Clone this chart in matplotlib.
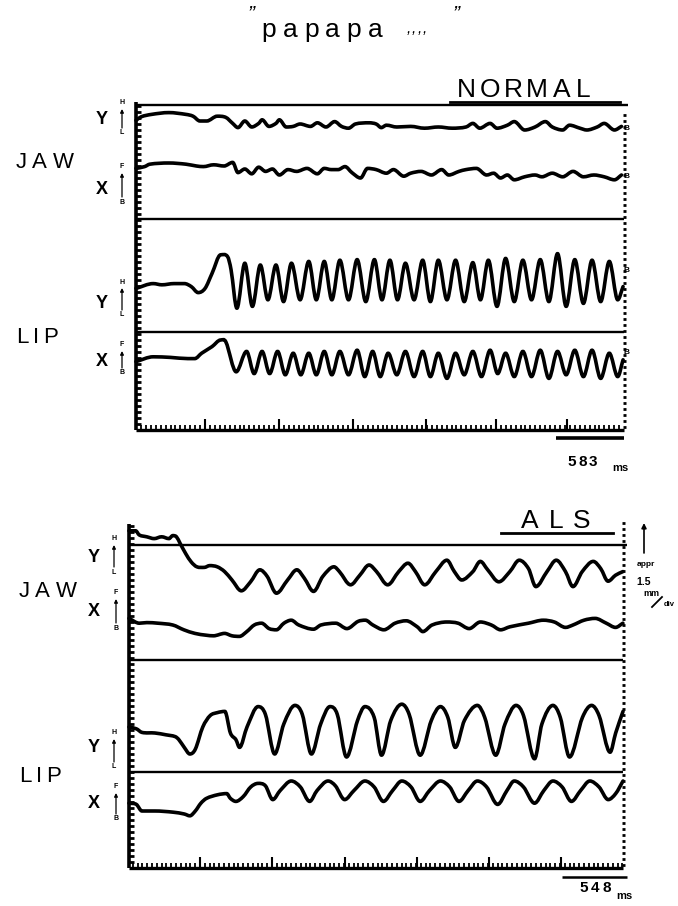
import numpy as np
import matplotlib
matplotlib.use("Agg")
import matplotlib.pyplot as plt
from matplotlib.path import Path
from matplotlib.patches import PathPatch
from matplotlib.textpath import TextPath
from matplotlib.font_manager import FontProperties

FONT = "Liberation Sans"
plt.rcParams["font.family"] = [FONT, "DejaVu Sans"]

# ---------------- data (time in ms, displacement in divisions of ~1.5 mm) -------------
normal_jaw_y_t = [0, 44, 133, 281, 429, 489, 548, 607, 696, 770, 829, 874, 933, 992, 1052, 1081,
                  1140, 1200, 1229, 1288, 1348, 1407, 1496, 1555, 1629, 1703, 1762, 1822, 1881,
                  1999, 2059, 2103, 2147, 2236, 2355, 2473, 2592, 2710, 2829, 2888, 2947, 3036,
                  3095, 3184, 3243, 3332, 3421, 3510, 3569, 3658, 3717, 3806, 3865, 3954, 4014,
                  4102, 4162]
normal_jaw_y_v = [51.6, 52.2, 52.6, 52.9, 52.6, 52.3, 51.5, 51.5, 52.3, 52.1, 51.1, 50.4, 51.5,
                  50.5, 51.1, 51.7, 50.6, 51.1, 51.7, 50.5, 50.6, 51.0, 50.6, 51.2, 50.5, 51.4,
                  50.6, 50.3, 51.0, 51.2, 51.0, 50.4, 50.8, 50.5, 50.6, 50.3, 50.5, 50.3, 50.5,
                  51.1, 50.3, 51.1, 50.3, 50.8, 51.4, 50.0, 50.5, 51.4, 50.5, 50.0, 50.8, 50.3,
                  50.0, 50.5, 51.1, 50.0, 50.6]

normal_jaw_x_t = [0, 74, 118, 281, 429, 518, 578, 666, 755, 829, 874, 933, 992, 1052, 1111, 1170,
                  1229, 1303, 1377, 1466, 1555, 1614, 1674, 1733, 1792, 1851, 1925, 1985, 2059,
                  2147, 2207, 2296, 2355, 2444, 2533, 2621, 2681, 2769, 2829, 2918, 3006, 3066,
                  3125, 3184, 3243, 3332, 3421, 3480, 3569, 3658, 3747, 3836, 3925, 4014, 4102,
                  4162]
normal_jaw_x_v = [43.6, 43.9, 44.3, 44.5, 44.3, 44.0, 43.9, 44.2, 44.0, 44.6, 42.9, 43.5, 42.7,
                  43.8, 43.1, 43.5, 42.5, 43.4, 43.1, 43.6, 42.7, 43.6, 43.4, 43.4, 43.9, 42.9,
                  42.0, 43.6, 43.4, 42.8, 43.4, 42.3, 42.8, 43.1, 42.5, 43.4, 42.5, 43.1, 43.4,
                  43.6, 42.5, 42.8, 42.0, 42.5, 41.7, 42.2, 42.5, 42.2, 42.8, 42.2, 43.1, 42.2,
                  42.5, 42.2, 41.7, 42.5]

normal_lip_y_t = [0, 148, 222, 326, 415, 474, 533, 592, 652, 726, 785, 815, 865, 933, 998, 1066,
                  1131, 1200, 1265, 1333, 1407, 1481, 1546, 1614, 1679, 1748, 1822, 1896, 1970,
                  2044, 2109, 2177, 2242, 2310, 2384, 2458, 2524, 2592, 2666, 2740, 2814, 2888,
                  2953, 3021, 3095, 3169, 3243, 3317, 3391, 3466, 3540, 3614, 3688, 3762, 3836,
                  3910, 3984, 4058, 4130, 4176]
normal_lip_y_v = [23.6, 24.4, 24.2, 24.4, 24.4, 23.9, 22.9, 23.6, 26.1, 29.2, 28.9, 26.7, 20.3,
                  27.8, 20.6, 27.5, 21.7, 27.5, 21.4, 27.8, 21.7, 28.1, 21.7, 28.1, 21.7, 28.3,
                  21.7, 28.4, 21.4, 28.4, 21.7, 28.3, 21.7, 27.8, 21.7, 28.3, 21.4, 28.3, 21.7,
                  28.3, 21.4, 27.9, 21.7, 28.3, 20.6, 28.6, 21.4, 28.3, 21.7, 28.4, 21.4, 29.4,
                  20.6, 28.4, 21.1, 28.3, 21.4, 28.1, 21.7, 23.9]

normal_lip_x_t = [0, 148, 296, 444, 504, 563, 652, 726, 770, 859, 948, 1013, 1081, 1146, 1214,
                  1280, 1348, 1413, 1481, 1546, 1614, 1679, 1748, 1822, 1896, 1961, 2029, 2094,
                  2162, 2236, 2310, 2384, 2458, 2524, 2592, 2666, 2740, 2814, 2888, 2962, 3036,
                  3101, 3169, 3243, 3317, 3391, 3466, 3540, 3614, 3688, 3762, 3836, 3910, 3984,
                  4058, 4130, 4176]
normal_lip_x_v = [11.4, 12.2, 12.1, 11.9, 11.9, 12.8, 13.9, 15.0, 14.7, 9.7, 13.1, 9.4, 13.1,
                  9.4, 13.1, 9.2, 12.8, 9.2, 12.8, 9.2, 13.1, 9.2, 13.1, 9.2, 13.3, 8.9, 13.1,
                  8.9, 12.8, 9.2, 13.1, 8.9, 13.1, 8.9, 12.8, 8.6, 12.8, 9.2, 13.1, 8.9, 13.3,
                  9.4, 12.8, 8.9, 13.1, 8.9, 13.3, 8.6, 13.1, 9.2, 13.3, 8.9, 13.3, 8.6, 12.8,
                  8.9, 11.7]

als_jaw_y_t = [0, 56, 87, 150, 212, 275, 337, 369, 400, 431, 478, 525, 572, 634, 681, 744, 806,
               868, 947, 1025, 1103, 1165, 1243, 1337, 1415, 1478, 1556, 1634, 1728, 1774, 1868,
               1946, 2024, 2087, 2181, 2274, 2352, 2415, 2493, 2587, 2680, 2743, 2805, 2899,
               2962, 3024, 3118, 3211, 3290, 3368, 3430, 3524, 3602, 3680, 3743, 3821, 3914,
               3977, 4039, 4102, 4164]
als_jaw_y_v = [56.2, 56.2, 55.5, 55.2, 54.9, 55.2, 54.9, 55.4, 55.2, 54.1, 52.4, 51.0, 50.2,
               50.1, 50.4, 50.2, 49.4, 48.0, 46.2, 47.7, 49.7, 48.6, 45.8, 48.0, 49.7, 48.3,
               46.1, 48.6, 50.2, 49.4, 47.2, 48.8, 50.5, 49.4, 47.2, 49.4, 50.8, 49.4, 47.2,
               49.4, 51.3, 49.4, 48.0, 49.4, 51.1, 49.7, 47.7, 49.4, 51.3, 49.9, 46.9, 49.4,
               51.3, 49.4, 46.9, 49.4, 51.1, 49.9, 47.8, 48.8, 49.4]

als_jaw_x_t = [0, 87, 150, 244, 369, 462, 556, 650, 712, 806, 868, 931, 993, 1056, 1118, 1181,
               1243, 1306, 1368, 1431, 1556, 1618, 1743, 1837, 1931, 1993, 2056, 2149, 2243,
               2337, 2430, 2477, 2555, 2680, 2774, 2868, 2962, 3055, 3133, 3211, 3368, 3493,
               3586, 3680, 3743, 3836, 3930, 4024, 4102, 4164]
als_jaw_x_v = [41.6, 40.8, 40.9, 40.8, 40.5, 39.7, 39.1, 38.8, 38.7, 39.1, 38.7, 38.6, 39.4,
               40.5, 40.8, 39.9, 39.7, 40.8, 41.3, 40.5, 39.8, 40.5, 40.8, 39.9, 41.1, 41.3,
               40.5, 39.7, 40.8, 41.2, 40.2, 39.4, 40.5, 41.0, 40.8, 39.9, 41.0, 40.5, 39.7,
               40.2, 40.8, 41.3, 41.0, 40.1, 40.5, 41.3, 41.6, 40.8, 40.1, 40.8]

als_lip_y_t = [0, 62, 109, 218, 311, 389, 420, 466, 513, 559, 622, 684, 746, 808, 855, 901, 932,
               995, 1088, 1150, 1228, 1305, 1399, 1461, 1538, 1616, 1694, 1756, 1834, 1927,
               1989, 2067, 2129, 2207, 2300, 2362, 2455, 2549, 2626, 2688, 2751, 2828, 2937,
               2999, 3092, 3170, 3263, 3326, 3419, 3481, 3574, 3636, 3714, 3823, 3900, 3963,
               4056, 4103, 4165]
als_lip_y_v = [23.5, 23.2, 22.6, 22.5, 22.2, 21.9, 21.4, 20.1, 19.0, 19.8, 23.5, 25.4, 25.9,
               26.1, 22.5, 21.4, 20.1, 23.5, 26.9, 25.6, 19.0, 24.0, 27.1, 25.6, 19.0, 24.0,
               26.9, 25.6, 18.5, 24.6, 26.9, 25.1, 18.8, 24.6, 27.3, 25.6, 18.8, 24.6, 26.9,
               25.1, 20.1, 24.6, 27.1, 25.1, 18.8, 24.0, 27.1, 25.4, 18.2, 24.0, 27.1, 25.1,
               18.5, 25.1, 27.1, 25.4, 19.3, 22.5, 26.1]

als_lip_x_t = [0, 62, 109, 218, 373, 466, 513, 559, 606, 653, 746, 824, 855, 901, 963, 1026,
               1088, 1150, 1212, 1274, 1368, 1445, 1523, 1585, 1678, 1740, 1818, 1896, 1989,
               2067, 2145, 2222, 2300, 2378, 2455, 2533, 2626, 2704, 2782, 2859, 2937, 3015,
               3108, 3186, 3248, 3326, 3419, 3497, 3574, 3652, 3730, 3807, 3885, 3963, 4040,
               4103, 4165]
als_lip_x_v = [10.8, 10.6, 9.5, 9.5, 9.3, 9.0, 8.7, 9.5, 10.8, 11.6, 12.2, 12.4, 11.6, 11.1,
               11.9, 13.5, 14.1, 13.7, 11.4, 12.9, 14.5, 13.5, 11.1, 12.9, 14.5, 13.7, 11.4,
               12.9, 14.5, 13.5, 11.1, 12.9, 14.5, 13.5, 11.1, 12.9, 14.5, 13.5, 11.1, 12.9,
               14.5, 13.5, 10.6, 12.9, 14.5, 13.5, 10.8, 12.9, 14.5, 13.5, 11.1, 12.9, 14.5,
               13.5, 11.4, 12.4, 14.5]

# reference lines (divisions) and time marks (ms)
normal_lines = [54.2, 35.2, 16.3]
als_lines = [53.8, 34.7, 16.0]
normal_major_ticks = [592, 1226, 1861, 2487, 3087, 3695]
als_major_ticks = [599, 1206, 1821, 2428, 3035, 3642]
normal_scale_ms = 583
als_scale_ms = 548

# ---------------- figure ----------------
W, H = 678, 906
fig = plt.figure(figsize=(W / 100, H / 100), dpi=100)
fig.patch.set_facecolor("white")

ov = fig.add_axes([0, 0, 1, 1])
ov.set_xlim(0, W)
ov.set_ylim(H, 0)
ov.axis("off")
ov.set_zorder(5)
ov.patch.set_alpha(0)

PX_PER_DIV = 6.0


def smooth_path(t, v):
    t = np.asarray(t, float)
    v = np.asarray(v, float)
    n = len(t)
    m = np.zeros(n)
    for i in range(1, n - 1):
        if (v[i] - v[i - 1]) * (v[i + 1] - v[i]) > 0:
            m[i] = (v[i + 1] - v[i - 1]) / (t[i + 1] - t[i - 1])
    m[0] = (v[1] - v[0]) / (t[1] - t[0])
    m[-1] = (v[-1] - v[-2]) / (t[-1] - t[-2])
    verts = [(t[0], v[0])]
    codes = [Path.MOVETO]
    for i in range(n - 1):
        h = t[i + 1] - t[i]
        verts += [(t[i] + h / 3, v[i] + m[i] * h / 3),
                  (t[i + 1] - h / 3, v[i + 1] - m[i + 1] * h / 3),
                  (t[i + 1], v[i + 1])]
        codes += [Path.CURVE4] * 3
    return Path(verts, codes)


def make_panel(left, right, top, bottom, ms_per_px):
    ax = fig.add_axes([left / W, 1 - bottom / H, (right - left) / W, (bottom - top) / H])
    xmax = (right - left) * ms_per_px
    ymax = (bottom - top) / PX_PER_DIV
    ax.set_xlim(0, xmax)
    ax.set_ylim(0, ymax)
    ax.axis("off")
    return ax, xmax, ymax


def draw_frame(ax, xmax, ymax, mpp, majors, lines, dot_top):
    k = dict(color="black", clip_on=False, solid_capstyle="butt")
    # left axis with ticks every division
    ax.plot([0, 0], [0, ymax], lw=2.6, **k)
    ax.hlines(np.arange(1, int(ymax) + 1), 0, 5 * mpp, lw=2.0, color="black", clip_on=False)
    # time base
    ax.plot([0, xmax], [0, 0], lw=2.4, **k)
    step = (majors[1] - majors[0]) / 15.0
    minors = np.arange(majors[0] % step, xmax, step)
    ax.vlines(minors, 0, 0.9, lw=1.3, color="black", clip_on=False)
    ax.vlines(majors, 0, 1.9, lw=1.5, color="black", clip_on=False)
    # dotted right edge
    ax.hlines(np.arange(0.5, dot_top, 1.0), xmax - 12, xmax + 18, lw=2.0,
              color="black", clip_on=False)
    # reference lines
    for i, yl in enumerate(lines):
        ax.plot([0, xmax + (4 * mpp if i == 0 else 0)], [yl, yl], lw=1.7, **k)


def draw_trace(ax, t, v):
    ax.add_patch(PathPatch(smooth_path(t, v), fill=False, lw=2.6, ec="black",
                           capstyle="round", joinstyle="round", clip_on=False))


# NORMAL panel
mpp1 = 583 / 68.0
ax1, xm1, ym1 = make_panel(136, 624, 102, 430, mpp1)
draw_frame(ax1, xm1, ym1, mpp1, normal_major_ticks, normal_lines, ym1 - 1.2)
for t, v in [(normal_jaw_y_t, normal_jaw_y_v), (normal_jaw_x_t, normal_jaw_x_v),
             (normal_lip_y_t, normal_lip_y_v), (normal_lip_x_t, normal_lip_x_v)]:
    draw_trace(ax1, t, v)
ax1.plot([xm1 - normal_scale_ms, xm1], [-1.35, -1.35], lw=2.6, color="black",
         clip_on=False, solid_capstyle="butt")

# ALS panel
mpp2 = 548 / 65.0
ax2, xm2, ym2 = make_panel(129, 623, 524, 868, mpp2)
draw_frame(ax2, xm2, ym2, mpp2, als_major_ticks, als_lines, ym2 + 0.6)
for t, v in [(als_jaw_y_t, als_jaw_y_v), (als_jaw_x_t, als_jaw_x_v),
             (als_lip_y_t, als_lip_y_v), (als_lip_x_t, als_lip_x_v)]:
    draw_trace(ax2, t, v)
ax2.plot([xm2 + 4 * mpp2 - als_scale_ms, xm2 + 4 * mpp2], [-1.5, -1.5], lw=1.8,
         color="black", clip_on=False, solid_capstyle="butt")


# ---------------- text ----------------
def spaced(x0, y, s, size, gap, weight="normal", va="baseline", style="normal"):
    fp = FontProperties(family=FONT, weight=weight, style=style)
    x = x0
    for ch in s:
        if ch == " ":
            x += gap * 2
            continue
        w = TextPath((0, 0), ch, size=size, prop=fp).get_extents().width * 100 / 72.0
        ov.text(x + w / 2, y, ch, fontsize=size, fontweight=weight, fontstyle=style,
                ha="center", va=va, family=FONT)
        x += w + gap


# title
ov.text(251, 20, "\u201d", fontsize=15, ha="center", va="baseline", style="italic")
spaced(263, 37, "papapa", 19, 8.5)
spaced(408, 33, ",,,,", 11, 3, style="italic")
ov.text(456, 20, "\u201d", fontsize=15, ha="center", va="baseline", style="italic")

# panel titles
spaced(459, 97, "NORMAL", 19, 7)
ov.plot([450, 620], [102, 102], color="black", lw=2.0)
spaced(521, 528, "ALS", 19, 12)
ov.plot([501, 613], [533, 533], color="black", lw=2.0)

# scale labels
spaced(568, 466, "583", 11, 3, weight="bold")
ov.text(612, 471, "ms", fontsize=8, fontweight="bold", ha="left", va="baseline")
spaced(580, 892, "548", 11, 3.5, weight="bold")
ov.text(616, 899, "ms", fontsize=8, fontweight="bold", ha="left", va="baseline")

# side labels
for (x, y, s) in [(17, 168, "JAW"), (17, 343, "LIP"), (20, 597, "JAW"), (20, 782, "LIP")]:
    spaced(x, y, s, 16, 6 if s == "JAW" else 8)
for (x, y, s) in [(102, 120, "Y"), (102, 190, "X"), (102, 303, "Y"), (102, 362, "X"),
                  (94, 558, "Y"), (94, 611, "X"), (94, 748, "Y"), (94, 803, "X")]:
    ov.text(x, y, s, fontsize=13, fontweight="bold", ha="center", va="center")

# small direction markers
markers = [(122, 103, 133, "H", "L"), (122, 167, 202, "F", "B"),
           (122, 282, 315, "H", "L"), (122, 345, 373, "F", "B"),
           (114, 539, 572, "H", "L"), (116, 593, 628, "F", "B"),
           (114, 733, 767, "H", "L"), (116, 787, 819, "F", "B")]
for x, ya, yb, a, b in markers:
    ov.text(x, ya, a, fontsize=5, fontweight="bold", ha="center", va="center")
    ov.text(x, yb, b, fontsize=5, fontweight="bold", ha="center", va="center")
    ov.annotate("", xy=(x, ya + 6), xytext=(x, yb - 5),
                arrowprops=dict(arrowstyle="-|>", lw=0.9, color="black",
                                mutation_scale=5, shrinkA=0, shrinkB=0))

# pen end marks (normal panel)
for y in [128, 176, 270, 352]:
    ov.text(627, y, "B", fontsize=6, fontweight="bold", ha="center", va="center")

# calibration note
ov.annotate("", xy=(644, 523), xytext=(644, 553),
            arrowprops=dict(arrowstyle="-|>", lw=1.2, color="black",
                            mutation_scale=7, shrinkA=0, shrinkB=0))
ov.text(646, 564, "appr", fontsize=6, fontweight="bold", ha="center", va="center")
ov.text(644, 582, "1.5", fontsize=7.5, fontweight="bold", ha="center", va="center")
ov.text(651, 593, "mm", fontsize=6.5, fontweight="bold", ha="center", va="center")
ov.plot([652, 662], [607, 597], color="black", lw=1.3)
ov.text(669, 604, "div", fontsize=5.5, fontweight="bold", ha="center", va="center")

fig.savefig("out.png", dpi=100, facecolor="white")
